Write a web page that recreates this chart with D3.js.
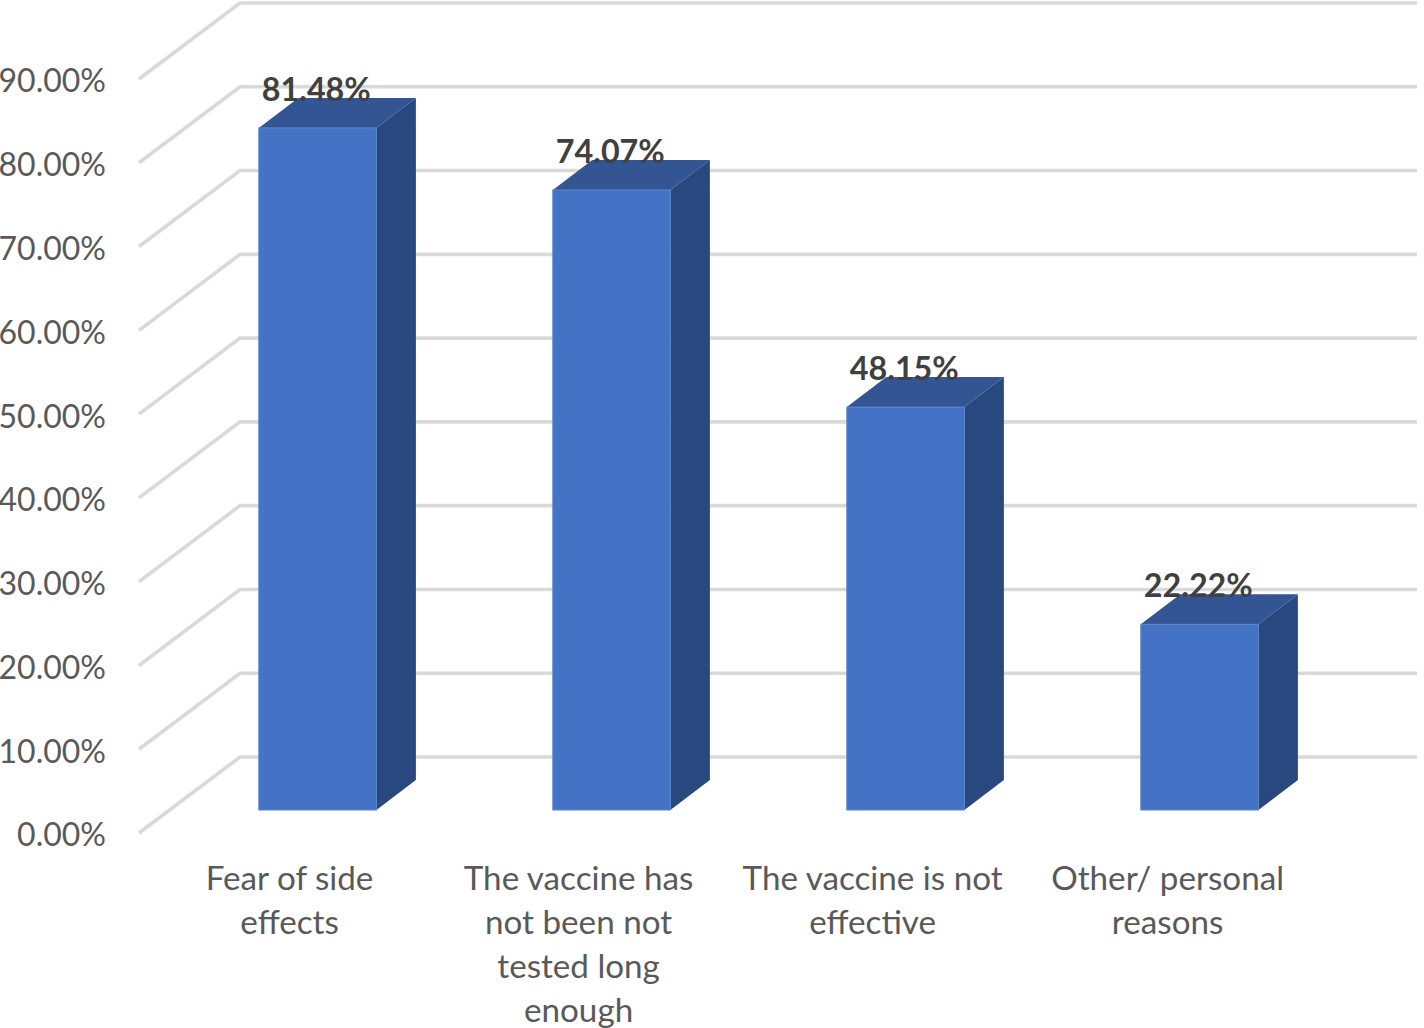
<!DOCTYPE html>
<html><head><meta charset="utf-8">
<script src="https://cdn.jsdelivr.net/npm/d3@7"></script>
<style>html,body{margin:0;padding:0;background:#fff}svg{display:block}text{font-family:Lato,Carlito,sans-serif}</style>
</head><body><svg id="c" width="1424" height="1028"></svg>
<script>
const categories = [["Fear of side","effects"],["The vaccine has","not been not","tested long","enough"],["The vaccine is not","effective"],["Other/ personal","reasons"]];
const values = [81.48,74.07,48.15,22.22];
const ticks = [0,10,20,30,40,50,60,70,80,90];
const labelShift = [-28,-33,-33,-32];

const svg = d3.select("#c");
const y = d3.scaleLinear().domain([0,90]).range([833,79]);
const x = d3.scaleBand().domain(d3.range(4)).range([170.6,1346.6]).paddingInner(0.6).paddingOuter(0.3);
const wall = {dx:101, dy:-76, right:1417};
const depth = {dx:39.5, dy:-30};
const baseShift = -23;

const grid = svg.append("g");
grid.selectAll("polyline").data(ticks).join("polyline")
  .attr("points", d => `139,${y(d)} ${139+wall.dx},${y(d)+wall.dy} ${wall.right},${y(d)+wall.dy}`)
  .attr("fill","none").attr("stroke","#D9D9D9").attr("stroke-width",3.6);

const ax = svg.append("g").attr("transform","translate(106,2)")
  .call(d3.axisLeft(y).tickValues(ticks).tickSize(0).tickPadding(0).tickFormat(d=>d3.format(".2f")(d)+"%"));
ax.select(".domain").remove();
ax.selectAll("text").attr("fill","#595959").attr("font-size",32).attr("dy","0.34em").style("font-family","Lato,Carlito,sans-serif");

const bars = svg.selectAll("g.bar").data(values).join("g").attr("class","bar");
const X0 = (d,i)=>x(i), X1=(d,i)=>x(i)+x.bandwidth();
const B = y(0)+baseShift, T = d => y(d)+baseShift+0.5;
bars.append("path").attr("fill","#335593").attr("d",(d,i)=>`M${X0(d,i)},${T(d)}L${X0(d,i)+depth.dx},${T(d)+depth.dy}L${X1(d,i)+depth.dx},${T(d)+depth.dy}L${X1(d,i)},${T(d)}Z`);
bars.append("path").attr("fill","#2A4880").attr("d",(d,i)=>`M${X1(d,i)},${T(d)}L${X1(d,i)+depth.dx},${T(d)+depth.dy}L${X1(d,i)+depth.dx},${B+depth.dy}L${X1(d,i)},${B}Z`);
bars.append("rect").attr("fill","#4472C4").attr("stroke","#5B84CC").attr("stroke-width",1)
  .attr("x",(d,i)=>X0(d,i)).attr("y",d=>T(d)).attr("width",x.bandwidth()).attr("height",d=>B-T(d));
bars.append("text").attr("x",(d,i)=>x(i)+x.bandwidth()/2-1.3).attr("y",d=>T(d)-27)
  .attr("text-anchor","middle").attr("fill","#404040").attr("font-weight",700).attr("font-size",32.3)
  .text(d=>d3.format(".2f")(d)+"%");

const labels = svg.selectAll("text.cat").data(categories).join("text").attr("class","cat")
  .attr("text-anchor","middle").attr("fill","#595959").attr("font-size",33.2);
labels.each(function(lines,i){
  d3.select(this).selectAll("tspan").data(lines).join("tspan")
    .attr("x",x(i)+x.bandwidth()/2+labelShift[i]).attr("y",(l,k)=>890+44*k).text(l=>l);
});
</script></body></html>
